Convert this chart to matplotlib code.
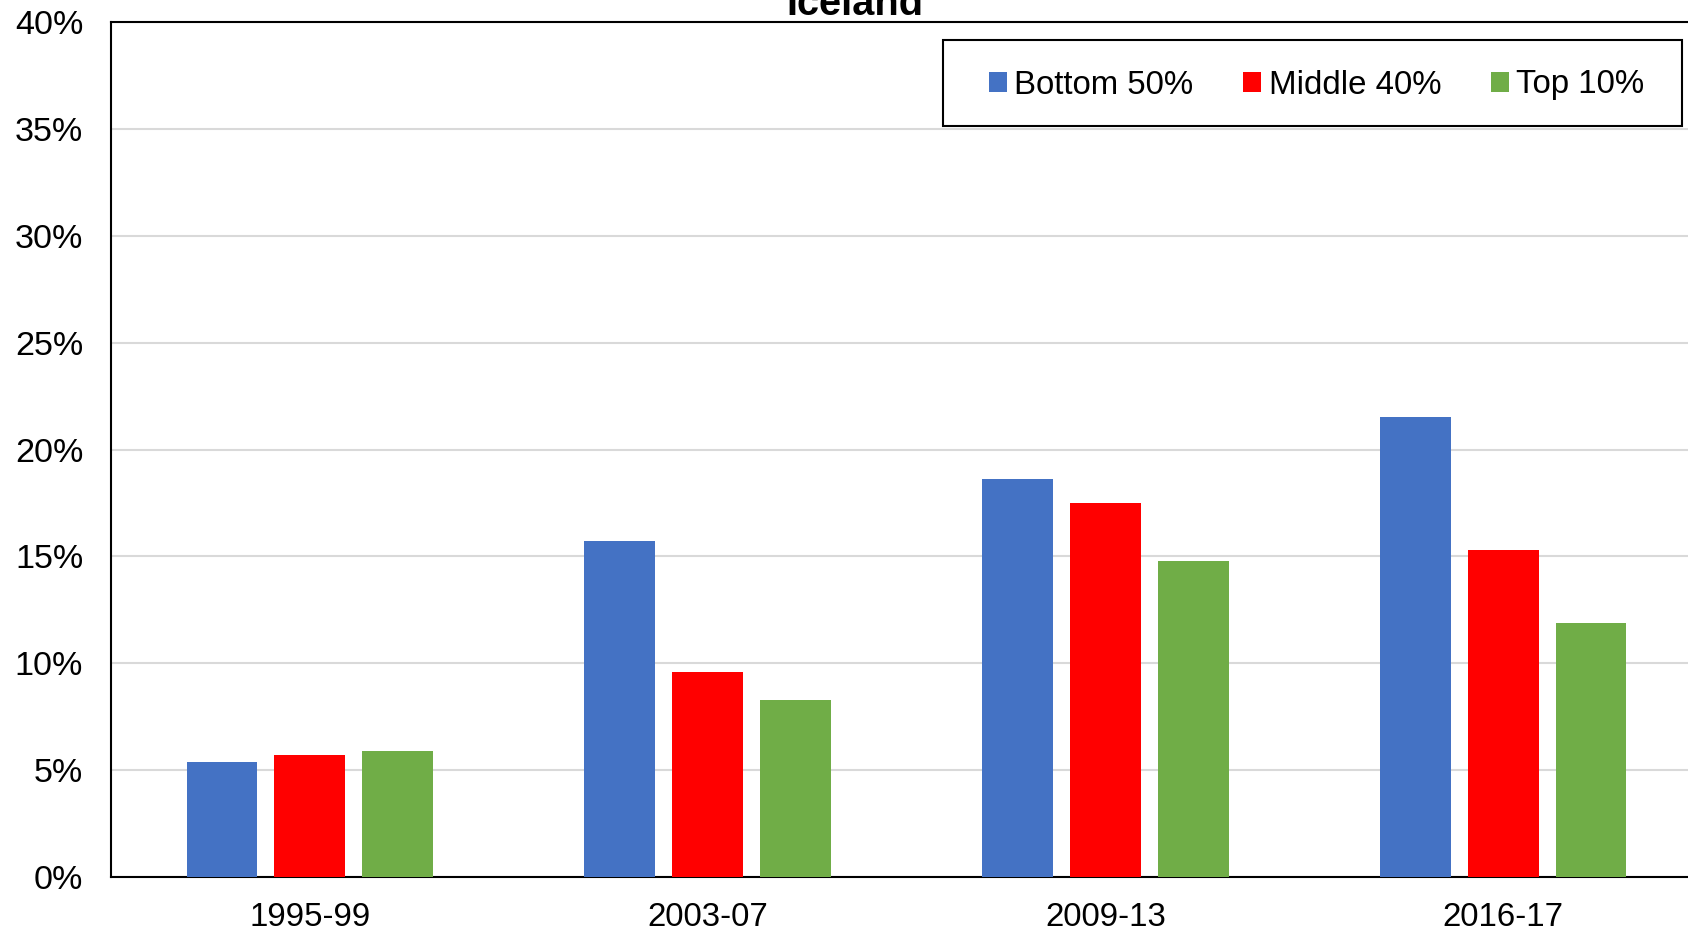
import matplotlib.pyplot as plt
import numpy as np
from matplotlib.patches import Rectangle

plt.rcParams['font.family'] = ['Liberation Sans', 'DejaVu Sans']

# data (percent)
periods = ["1995-99", "2003-07", "2009-13", "2016-17"]
series_names = ["Bottom 50%", "Middle 40%", "Top 10%"]
bottom_50 = [5.4, 15.7, 18.6, 21.5]
middle_40 = [5.7, 9.6, 17.5, 15.3]
top_10 = [5.9, 8.3, 14.8, 11.9]
colors = ["#4472C4", "#FF0000", "#70AD47"]

fig = plt.figure(figsize=(16.88, 9.34), dpi=100)
# axes runs a bit past the right edge, like the cropped original
ax = fig.add_axes([111 / 1688, 1 - 877 / 934, (1702 - 111) / 1688, (877 - 22) / 934])

x = np.arange(len(periods))
width = 0.178
step = 0.221
for i, (vals, name) in enumerate(zip([bottom_50, middle_40, top_10], series_names)):
    ax.bar(x + (i - 1) * step, vals, width, color=colors[i], label=name, zorder=3)

ax.set_xlim(-0.5, 3.5)
ax.set_ylim(0, 40)
ax.set_yticks(np.arange(0, 41, 5))
ax.set_yticklabels([f"{v}%" for v in range(0, 41, 5)])
ax.set_xticks(x)
ax.set_xticklabels(periods)
ax.tick_params(axis='both', length=0, labelsize=23.8)
ax.tick_params(axis='y', labelsize=24.6, pad=20)
ax.tick_params(axis='x', pad=18)
ax.grid(axis='y', color='#d9d9d9', linewidth=1.5, zorder=0)
for s in ax.spines.values():
    s.set_color('black')
    s.set_linewidth(1.5)

fig.text(855 / 1688, 1 - 15 / 934, "Iceland", ha='center', va='baseline',
         fontsize=28.6, fontweight='bold')

# legend box drawn by hand so the padding matches the original
box = Rectangle((943 / 1688, 1 - 126 / 934), (1682 - 943) / 1688, 86 / 934,
                transform=fig.transFigure, facecolor='white',
                edgecolor='black', linewidth=1.5, zorder=5, clip_on=False)
ax.add_patch(box)
leg = ax.legend(loc='center left', bbox_to_anchor=(989 / 1688, 1 - 85 / 934),
                bbox_transform=fig.transFigure, ncol=3, fontsize=23.8,
                handlelength=0.55, handleheight=0.55, handletextpad=0.22,
                columnspacing=1.5, borderpad=0, frameon=False, borderaxespad=0)
leg.set_zorder(6)

fig.savefig("out.png", dpi=100)
